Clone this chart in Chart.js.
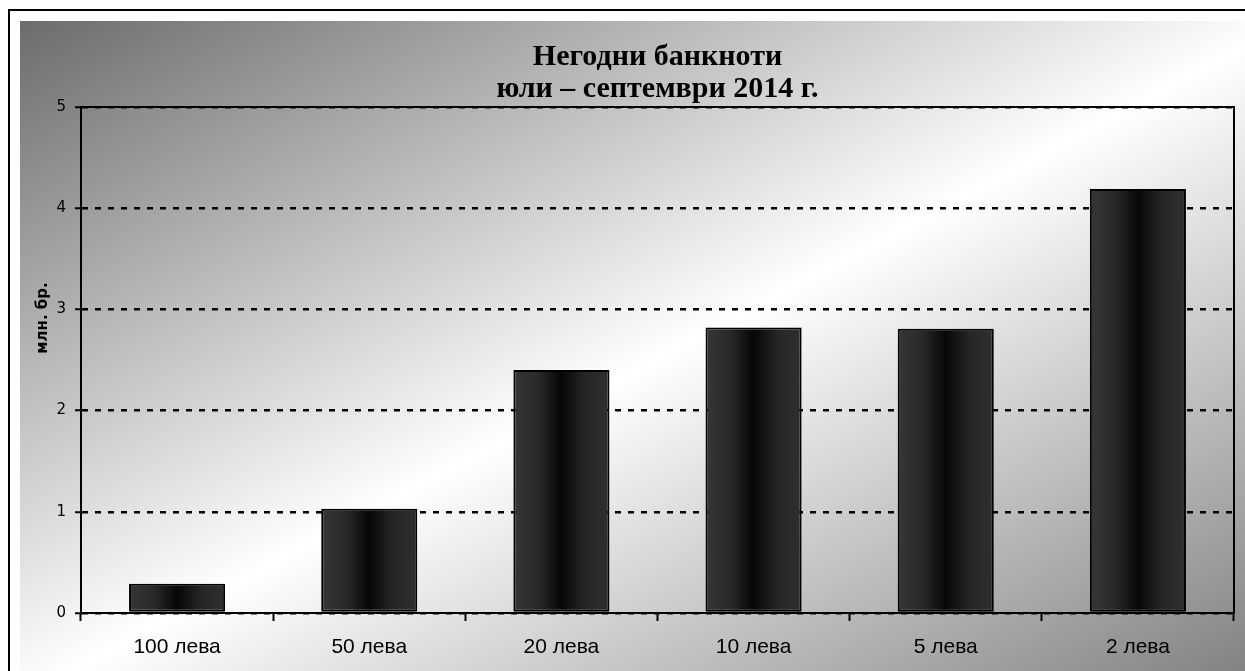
<!DOCTYPE html>
<html>
<head>
<meta charset="utf-8">
<title>Негодни банкноти</title>
<script src="https://cdn.jsdelivr.net/npm/chart.js@4"></script>
<style>
  html, body { margin: 0; padding: 0; background: #fff; }
  .chart-wrap { position: relative; width: 1245px; height: 671px; }
</style>
</head>
<body>
<div class="chart-wrap"><canvas id="unfitChart"></canvas></div>
<script>
'use strict';

/* ---- DATA ------------------------------------------------- */
const categories = ['100 лева', '50 лева', '20 лева', '10 лева', '5 лева', '2 лева'];
const unfitNotes = [0.29, 1.03, 2.40, 2.82, 2.81, 4.19];   // млн. бр.
const titleLines = ['Негодни банкноти', 'юли – септември 2014 г.'];
const yAxisTitle = 'млн. бр.';
const yTicks = [0, 1, 2, 3, 4, 5];

/* ---- PLUGINS ---------------------------------------------- */
// page background: black frame + diagonal grey/white gradient
const backdrop = {
  id: 'backdrop',
  beforeDraw(chart) {
    const { ctx, width, height } = chart;
    ctx.save();
    ctx.fillStyle = '#fff';
    ctx.fillRect(0, 0, width, height);
    const g = ctx.createLinearGradient(363, -161, 902, 853);
    g.addColorStop(0, '#6c6c6c');
    g.addColorStop(0.52, '#ffffff');
    g.addColorStop(1, '#838383');
    ctx.fillStyle = g;
    ctx.fillRect(20, 21, width - 20, height - 21);
    ctx.strokeStyle = '#000';
    ctx.lineWidth = 2;
    ctx.strokeRect(9, 10, width + 20, height + 20);
    ctx.restore();
  }
};

// solid frame round the plot area + rotated y title
const plotFrame = {
  id: 'plotFrame',
  afterDatasetsDraw(chart) {
    const { ctx, chartArea: a } = chart;
    ctx.save();
    ctx.strokeStyle = '#000';
    ctx.lineWidth = 2;
    ctx.strokeRect(a.left, a.top, a.right - a.left, a.bottom - a.top);
    ctx.translate(43, 318);
    ctx.rotate(-Math.PI / 2);
    ctx.font = 'bold 15px "DejaVu Sans"';
    ctx.fillStyle = '#000';
    ctx.textAlign = 'center';
    ctx.textBaseline = 'middle';
    ctx.fillText(yAxisTitle, 0, 0);
    ctx.restore();
  }
};

/* ---- BAR FILL (dark cylinder) ----------------------------- */
function barFill(context) {
  const chart = context.chart;
  const xScale = chart.scales.x;
  if (!chart.chartArea || !xScale) return '#1a1a1a';
  const cx = xScale.getPixelForValue(context.dataIndex);
  const half = (chart.chartArea.right - chart.chartArea.left) / categories.length * 0.25;
  const g = chart.ctx.createLinearGradient(cx - half, 0, cx + half, 0);
  g.addColorStop(0, '#363636');
  g.addColorStop(0.25, '#2a2a2a');
  g.addColorStop(0.5, '#070707');
  g.addColorStop(0.75, '#262626');
  g.addColorStop(1, '#2f2f2f');
  return g;
}

/* ---- CHART ------------------------------------------------ */
Chart.defaults.font.family = '"DejaVu Sans", Verdana, sans-serif';
Chart.defaults.color = '#000';

new Chart(document.getElementById('unfitChart'), {
  type: 'bar',
  data: {
    labels: categories,
    datasets: [{
      data: unfitNotes,
      backgroundColor: barFill,
      borderColor: '#000',
      borderWidth: 2,
      borderSkipped: false,
      barPercentage: 1,
      categoryPercentage: 0.5
    }]
  },
  options: {
    responsive: true,
    maintainAspectRatio: false,
    animation: false,
    layout: { padding: { top: 0, left: 57, right: 11, bottom: 11 } },
    plugins: {
      legend: { display: false },
      tooltip: { enabled: false },
      title: {
        display: true,
        text: titleLines,
        fullSize: false,
        color: '#000',
        font: { family: '"Liberation Serif", "Times New Roman", serif', size: 30, weight: 'bold', lineHeight: 32 / 30 },
        padding: { top: 41, bottom: 2 }
      }
    },
    scales: {
      x: {
        offset: true,
        afterFit(scale) { scale.height = 47; },
        grid: {
          display: true,
          offset: true,
          drawOnChartArea: false,
          drawTicks: true,
          tickLength: 8,
          tickColor: '#000',
          tickWidth: 2
        },
        border: { display: true, color: '#000', width: 2 },
        ticks: {
          padding: 14,
          font: { family: '"Liberation Sans", Arial, sans-serif', size: 21 },
          color: '#000'
        }
      },
      y: {
        min: 0,
        max: 5,
        afterBuildTicks(scale) { scale.ticks = yTicks.map(v => ({ value: v })); },
        afterFit(scale) { scale.width = 24; },
        grid: {
          color: '#000',
          lineWidth: 2.5,
          drawTicks: true,
          tickLength: 6,
          tickColor: '#000',
          tickWidth: 2
        },
        border: { display: true, color: '#000', width: 2, dash: [6, 7] },
        ticks: {
          padding: 9,
          font: { size: 15 },
          color: '#000'
        }
      }
    }
  },
  plugins: [backdrop, plotFrame]
});
</script>
</body>
</html>
